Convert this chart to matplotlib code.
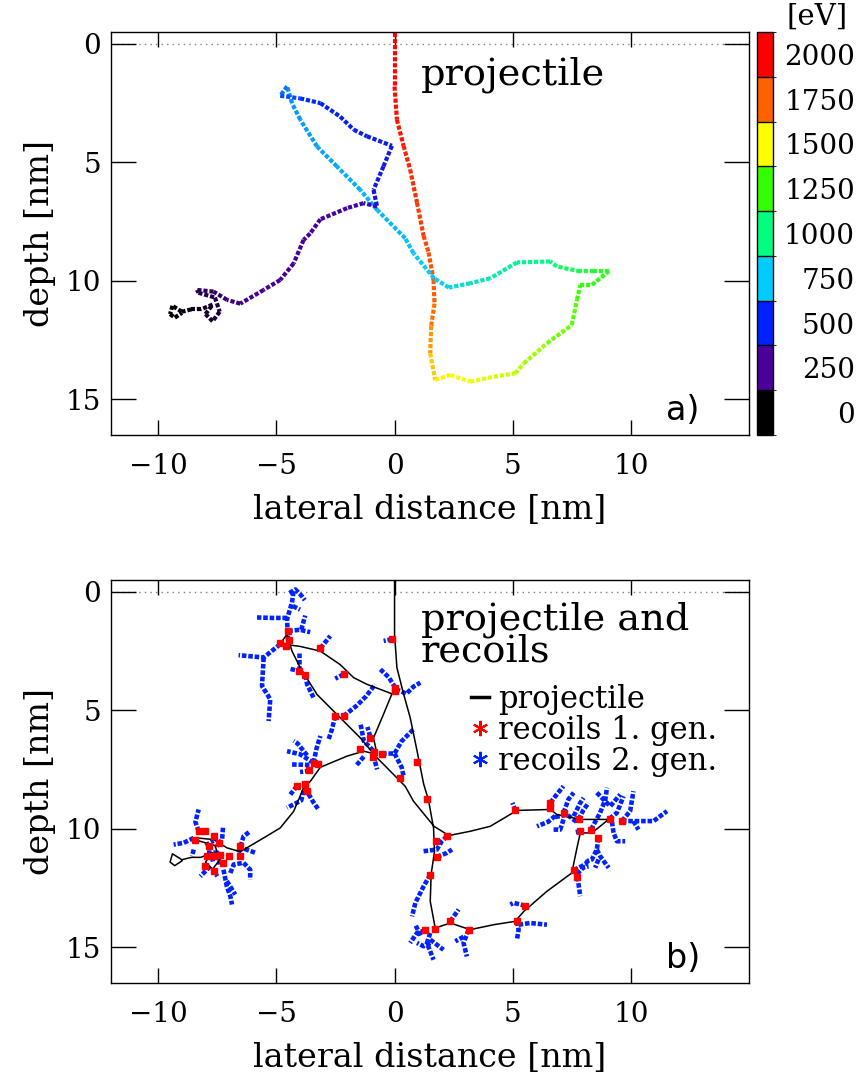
import numpy as np
import matplotlib
matplotlib.use("Agg")
import matplotlib.pyplot as plt
from matplotlib.collections import LineCollection
from matplotlib.colors import LinearSegmentedColormap, ListedColormap, BoundaryNorm
from matplotlib.cm import ScalarMappable
from matplotlib.lines import Line2D

plt.rcParams['font.family'] = ['DejaVu Serif']

# energy levels of the colour scale [eV]
levels = [0, 250, 500, 750, 1000, 1250, 1500, 1750, 2000]
level_colors = ['#000000', '#4b0099', '#0022ff', '#00ccff', '#00ff80',
                '#33ff00', '#ffff00', '#ff6000', '#ff0000']

# projectile trajectory: lateral x [nm], depth y [nm], energy [eV]
proj_x = [0.0, 0.0, 0.1, 0.38, 0.66, 0.95, 1.23, 1.44, 1.65, 1.69, 1.55, 1.51, 1.72,
          2.36, 3.2, 4.2, 5.1, 5.47, 6.45, 7.5, 7.72, 7.86, 8.35, 9.06,
          8.42, 7.86, 6.87, 6.59, 5.18, 4.05, 3.2, 2.3, 1.67,
          0.8, 0.45, -0.74, -1.45, -2.44, -3.28, -3.99, -4.34, -4.55,
          -4.84, -4.0, -3.14, -2.3, -1.73, -1.17, -0.11, -0.47, -0.89, -0.74,
          -1.31, -2.01, -3.14, -3.57, -3.85, -4.27, -4.84, -5.54, -6.53, -7.09, -7.66, -8.36,
          -8.3, -7.6, -7.4, -7.7, -8.0, -7.7, -8.2, -8.6, -9.0, -9.4, -9.5, -9.3, -9.0]
proj_y = [-0.45, 1.8, 3.2, 4.3, 5.3, 6.7, 8.1, 8.8, 9.96, 10.96, 11.9, 13.05, 14.18,
          13.97, 14.25, 14.04, 13.9, 13.48, 12.63, 11.86, 10.8, 10.17, 10.17, 9.6,
          9.6, 9.6, 9.39, 9.18, 9.22, 9.89, 10.1, 10.28, 9.89,
          8.83, 8.2, 7.0, 6.16, 5.17, 4.33, 3.2, 2.5, 1.79,
          2.19, 2.3, 2.5, 3.07, 3.62, 3.9, 4.3, 5.17, 6.16, 6.86,
          6.72, 6.93, 7.4, 8.0, 8.27, 9.26, 9.96, 10.38, 10.96, 10.8, 10.45, 10.38,
          10.5, 10.7, 11.3, 11.7, 11.4, 11.0, 11.2, 11.2, 11.3, 11.05, 11.4, 11.55, 11.35]
proj_E = [2000, 1975, 1950, 1925, 1900, 1860, 1820, 1800, 1770, 1740, 1700, 1620, 1540,
          1500, 1480, 1450, 1420, 1400, 1350, 1300, 1270, 1250, 1230, 1200,
          1150, 1100, 1050, 1000, 950, 900, 860, 800, 760,
          740, 730, 720, 710, 700, 690, 680, 670, 650,
          600, 530, 500, 490, 480, 470, 460, 440, 420, 400,
          300, 280, 270, 260, 255, 250, 245, 240, 230, 200, 170, 150,
          130, 120, 110, 90, 70, 60, 50, 40, 30, 20, 10, 5, 0]

# first generation recoils (collision points)
rec1_x = [-4.51, -4.48, -4.84, -4.6, -3.14, -2.16, -0.11, 0.03, 0.0, -4.06, -3.78,
          -2.51, -2.16, -1.03, -1.45, -0.89, -0.53, -0.9, 0.24, 0.95,
          -3.43, -3.22, -3.6, -3.78, -3.71, -4.13,
          -8.43, -8.29, -8.01, -7.66, -7.45, -7.87, -7.94, -7.66, -7.38, -7.24,
          -8.01, -7.66, -6.53, -6.53, -7.02,
          5.11, 6.59, 6.59, 7.15, 7.79, 7.86, 8.31, 8.63, 9.1, 9.62, 7.58, 7.74,
          1.37, 2.22, 1.76, 1.79, 1.51, 1.72, 1.3, 2.36, 3.13, 5.18, 5.53]
rec1_y = [1.65, 2.04, 2.14, 2.3, 2.38, 3.48, 2.0, 4.04, 4.2, 3.34, 3.52,
          5.24, 5.24, 6.15, 6.65, 6.76, 6.82, 6.95, 7.84, 7.18,
          7.21, 7.28, 7.52, 8.12, 8.41, 8.19,
          10.45, 10.1, 10.1, 10.31, 10.59, 10.73, 11.15, 11.15, 11.08, 11.43,
          11.58, 11.79, 10.73, 11.15, 11.15,
          9.22, 8.9, 9.1, 9.32, 9.6, 10.1, 10.03, 10.38, 9.57, 9.67, 11.74, 12.02,
          8.73, 10.31, 10.49, 11.18, 11.93, 14.22, 14.28, 13.9, 14.26, 13.9, 13.24]

# second generation recoil tracks, one list of (x, y) per track
rec2_tracks = [
    [(-4.51, 2.04), (-4.55, 1.15), (-4.34, 0.45), (-4.27, -0.04)],
    [(-4.45, 0.05), (-4.2, -0.1), (-3.95, 0.15), (-3.8, 0.35)],
    [(-4.3, 0.6), (-4.0, 0.75)],
    [(-4.55, 1.1), (-5.2, 1.1), (-5.82, 1.08)],
    [(-4.5, 1.65), (-4.0, 1.6), (-3.57, 1.7)],
    [(-3.95, 1.6), (-3.78, 1.0)],
    [(-4.84, 2.21), (-5.54, 2.77), (-6.6, 2.67)],
    [(-5.54, 2.77), (-5.61, 3.97), (-5.26, 4.53), (-5.33, 5.45)],
    [(-3.14, 2.38), (-2.72, 1.86)],
    [(-2.16, 3.48), (-2.51, 3.66)],
    [(-0.11, 2.0), (-0.46, 2.07)],
    [(0.03, 4.04), (-0.25, 3.6), (-0.6, 3.27)],
    [(0.05, 4.1), (0.5, 4.3), (0.8, 4.0), (1.09, 3.83)],
    [(-4.06, 2.56), (-4.06, 3.34)],
    [(-4.4, 3.25), (-4.06, 3.34)],
    [(-3.78, 3.52), (-3.7, 3.9), (-3.43, 4.46)],
    [(-2.51, 5.24), (-2.65, 5.8), (-2.79, 6.22)],
    [(-2.16, 5.24), (-1.6, 4.8), (-1.2, 4.4), (-0.82, 3.9)],
    [(-0.9, 6.7), (-1.3, 6.3), (-1.45, 5.52)],
    [(-1.03, 6.1), (-1.15, 5.7)],
    [(-0.89, 6.9), (-0.74, 7.49)],
    [(-0.53, 6.82), (0.0, 6.82), (0.3, 6.3), (0.8, 5.8)],
    [(0.0, 6.82), (0.3, 7.4), (0.38, 7.77)],
    [(-1.3, 6.95), (-1.6, 7.3)],
    [(-3.43, 7.21), (-3.3, 6.6), (-3.14, 6.08)],
    [(-3.43, 7.21), (-4.0, 6.85), (-4.55, 6.72)],
    [(-3.7, 6.9), (-4.1, 6.4), (-4.27, 6.29)],
    [(-3.6, 7.3), (-4.41, 7.28)],
    [(-3.6, 7.55), (-4.0, 7.6)],
    [(-4.13, 8.19), (-4.41, 8.55)],
    [(-3.78, 8.12), (-3.95, 8.8), (-4.55, 9.11)],
    [(-3.78, 8.3), (-3.45, 8.85), (-3.22, 9.18)],
    [(-8.29, 10.1), (-8.43, 9.7), (-8.29, 9.18)],
    [(-7.26, 9.95), (-7.3, 10.45), (-7.52, 10.73)],
    [(-6.6, 11.0), (-6.39, 10.31), (-6.11, 10.1)],
    [(-6.6, 10.75), (-6.2, 10.9), (-5.9, 11.0)],
    [(-6.95, 11.86), (-6.81, 11.5), (-6.39, 11.43), (-6.11, 11.72), (-6.11, 12.14)],
    [(-7.24, 11.72), (-7.1, 12.42), (-6.95, 12.84), (-6.88, 13.19)],
    [(-7.1, 12.2), (-6.74, 12.77)],
    [(-7.8, 11.58), (-8.22, 12.0)],
    [(-8.5, 10.38), (-8.93, 10.59), (-9.35, 10.66)],
    [(-8.5, 10.87), (-8.57, 11.15)],
    [(-7.94, 11.0), (-7.5, 11.0), (-7.4, 11.5)],
    [(-7.8, 11.3), (-7.3, 11.2)],
    [(-8.0, 10.7), (-7.66, 10.5)],
    [(-7.7, 11.7), (-7.5, 12.0)],
    [(5.11, 9.22), (4.99, 8.9)],
    [(6.59, 8.9), (6.9, 8.5), (7.15, 8.2)],
    [(6.8, 9.45), (6.5, 9.7), (6.03, 9.89)],
    [(7.15, 9.32), (7.36, 8.75), (7.58, 8.47)],
    [(7.58, 9.46), (7.86, 8.9), (8.0, 8.69)],
    [(7.79, 9.6), (8.0, 9.19), (8.21, 8.9)],
    [(7.15, 9.6), (7.01, 10.03), (6.73, 10.03)],
    [(8.31, 10.03), (8.7, 9.32), (8.92, 8.76), (8.99, 8.26)],
    [(8.56, 8.47), (8.84, 8.76), (9.13, 9.04), (9.55, 8.55)],
    [(9.1, 9.57), (9.41, 9.32), (9.69, 8.62)],
    [(9.62, 9.67), (9.97, 9.25), (10.11, 8.41)],
    [(9.62, 9.67), (10.26, 9.67), (10.96, 9.67), (11.53, 9.25)],
    [(10.11, 9.67), (10.32, 10.03)],
    [(9.2, 9.7), (9.27, 10.17), (9.41, 10.52), (9.76, 10.52)],
    [(8.63, 10.38), (8.56, 10.87), (8.35, 11.29), (8.14, 11.36)],
    [(8.56, 10.87), (8.7, 11.15), (9.06, 11.64)],
    [(8.63, 11.29), (8.49, 11.64)],
    [(7.58, 11.74), (8.07, 11.5), (8.21, 11.29)],
    [(7.74, 12.02), (7.86, 12.84)],
    [(7.72, 11.9), (8.0, 11.62), (8.21, 11.58)],
    [(6.8, 9.5), (7.3, 9.4), (7.7, 9.7)],
    [(7.86, 10.1), (7.6, 10.15)],
    [(2.22, 10.31), (2.0, 10.52), (1.79, 10.87), (1.23, 10.94)],
    [(1.79, 11.18), (2.22, 11.01), (2.43, 10.87)],
    [(1.51, 11.93), (1.23, 12.42), (0.88, 13.12), (0.74, 13.69)],
    [(1.3, 14.28), (0.95, 14.39), (0.66, 14.81)],
    [(1.51, 14.39), (1.37, 14.81), (1.65, 15.52)],
    [(1.51, 14.67), (2.07, 15.1)],
    [(1.1, 14.5), (0.88, 14.04)],
    [(1.51, 14.81), (1.23, 14.95), (0.95, 14.81)],
    [(2.36, 13.9), (2.71, 13.4)],
    [(3.13, 14.26), (2.92, 14.81), (3.06, 15.38)],
    [(2.92, 14.55), (2.57, 14.74)],
    [(5.18, 13.9), (5.25, 14.25), (5.18, 14.67)],
    [(5.25, 14.04), (5.74, 13.97), (6.45, 14.04)],
    [(5.53, 13.24), (5.04, 13.12), (4.9, 13.19)],
]

W, H = 859, 1074
fig = plt.figure(figsize=(W / 100, H / 100), dpi=100)
ax1 = fig.add_axes([111 / W, 1 - 435 / H, 638 / W, 403 / H])
ax2 = fig.add_axes([111 / W, 1 - 983 / H, 638 / W, 403 / H])
cax = fig.add_axes([757 / W, 1 - 435 / H, 16 / W, 403 / H])

pts = np.column_stack([proj_x, proj_y])
segs = np.stack([pts[:-1], pts[1:]], axis=1)
e_mid = (np.array(proj_E[:-1]) + np.array(proj_E[1:])) / 2
cmap_c = LinearSegmentedColormap.from_list('energy', level_colors)

lc = LineCollection(segs, colors=cmap_c(e_mid / 2000.0), linewidths=3.0,
                    linestyles=[(0, (1, 0.45))])
ax1.add_collection(lc)

# bottom panel
ax2.plot(proj_x, proj_y, color='black', lw=1.1, zorder=3)
for tr in rec2_tracks:
    tx, ty = zip(*tr)
    ax2.plot(tx, ty, color='#0022ff', lw=3.3, ls=(0, (1, 0.4)), zorder=2)
ax2.plot(rec1_x, rec1_y, ls='none', marker='s', ms=3.8, color='red', mec='red', zorder=4)

for ax in (ax1, ax2):
    ax.set_xlim(-12, 15)
    ax.set_ylim(16.5, -0.5)
    ax.axhline(0, color='gray', lw=1, ls=(0, (1, 3)), zorder=1)
    ax.set_xticks([-10, -5, 0, 5, 10])
    ax.set_yticks([0, 5, 10, 15])
    ax.tick_params(direction='in', top=True, right=True, labelsize=20, width=1)
    ax.tick_params(axis='x', length=11, pad=13)
    ax.tick_params(axis='y', length=18, pad=7)
    for sp in ax.spines.values():
        sp.set_linewidth(1)
    ax.set_xlabel('lateral distance [nm]', fontsize=24, labelpad=10)
    ax.set_ylabel('depth [nm]', fontsize=24, labelpad=7)

ax1.text(1.1, 1.3, 'projectile', fontsize=27.5, va='center', ha='left')
ax1.text(11.5, 15.45, 'a)', fontsize=24, va='center', ha='left', family='DejaVu Sans')
ax2.text(1.1, 0.4, 'projectile and\nrecoils', fontsize=27.5, va='top', ha='left', linespacing=0.86)
ax2.text(11.5, 15.45, 'b)', fontsize=24, va='center', ha='left', family='DejaVu Sans')

handles = [Line2D([], [], color='black', lw=2.5),
           Line2D([], [], ls='none', marker=(6, 2, 0), ms=11, color='red', mew=1.5),
           Line2D([], [], ls='none', marker=(6, 2, 0), ms=11, color='#0022ff', mew=1.5)]
ax2.legend(handles, ['projectile', 'recoils 1. gen.', 'recoils 2. gen.'],
           loc='upper left', bbox_to_anchor=(0.54, 0.78), frameon=False, fontsize=22,
           handlelength=0.6, handletextpad=0.3, labelspacing=0.0, borderpad=0)

# discrete colour bar
norm = BoundaryNorm(np.arange(-125, 2126, 250), len(levels))
cb = fig.colorbar(ScalarMappable(norm=norm, cmap=ListedColormap(level_colors)),
                  cax=cax, ticks=levels, drawedges=True)
cb.outline.set_linewidth(1)
cb.dividers.set_linewidth(1)
cb.ax.tick_params(length=0, labelsize=20, pad=59)
for t in cb.ax.get_yticklabels():
    t.set_ha('right')
fig.text(817 / W, 1 - 17 / H, '[eV]', fontsize=21, ha='center', va='center')

fig.savefig('out.png', dpi=100)
